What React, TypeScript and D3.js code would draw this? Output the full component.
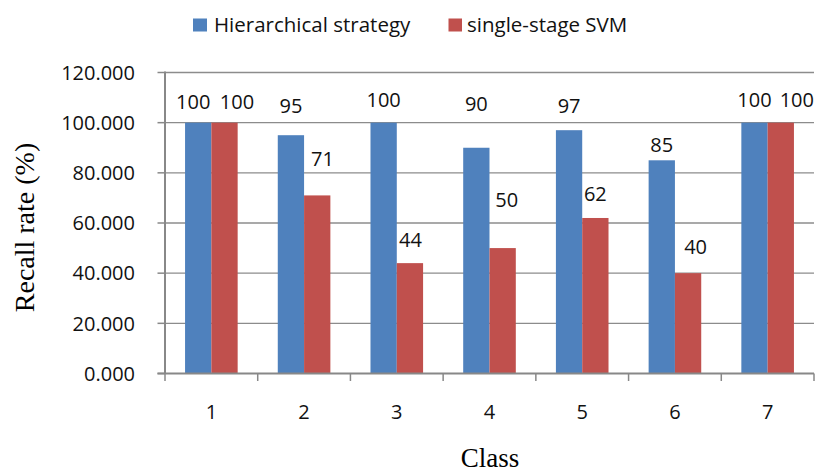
import * as d3 from "d3";

const classes = ["1", "2", "3", "4", "5", "6", "7"];
const seriesNames = ["Hierarchical strategy", "single-stage SVM"];
const hierarchical = [100, 95, 100, 90, 97, 85, 100];
const singleStage = [100, 71, 44, 50, 62, 40, 100];
const yTicks = [0, 20, 40, 60, 80, 100, 120];

// hand nudges for the value labels (px, relative to bar centre / bar top)
const blueNudge = [[-5, -21], [0, -29], [0, -22.5], [0, -43.6], [0, -24], [0, -15], [0, -22.5]];
const redNudge = [[12.5, -21], [5.3, -37], [0.5, -23], [4, -48], [0, -24.6], [7.5, -26.4], [16, -22.5]];

const colors = ["#4F81BD", "#C0504D"];
const sans = "'Open Sans', 'Noto Sans', sans-serif";
const serif = "'Liberation Serif', 'DejaVu Serif', serif";

export default function App() {
  const width = 819;
  const height = 473;
  const margin = { top: 72.5, right: 5, bottom: 99.5, left: 165 };

  const x0 = d3.scaleBand().domain(classes).range([margin.left, width - margin.right]).padding(0);
  const x1 = d3.scaleBand().domain(seriesNames).range([0, x0.bandwidth()]).paddingInner(0).paddingOuter(0.7627);
  const y = d3.scaleLinear().domain([0, 120]).range([height - margin.bottom, margin.top]);

  const series = [hierarchical, singleStage];
  const nudges = [blueNudge, redNudge];
  const x0Start = margin.left;
  const x0End = width - margin.right;
  const boundaries = d3.range(classes.length + 1).map(i => x0Start + i * x0.step());

  return (
    <svg width={width} height={height} style={{ position: "absolute", left: 0, top: 0, background: "#fff" }}>
      {/* gridlines + y ticks */}
      {yTicks.map(t => (
        <g key={t}>
          {t > 0 && <line x1={x0Start} x2={x0End} y1={y(t)} y2={y(t)} stroke="#8c8c8c" strokeWidth={1.3} />}
          <line x1={x0Start - 7.5} x2={x0Start} y1={y(t)} y2={y(t)} stroke="#888" strokeWidth={1.5} />
          <text x={135} y={y(t)} dy="0.36em" textAnchor="end" fontFamily={sans} fontSize={20} fill="#111">
            {d3.format(".3f")(t)}
          </text>
        </g>
      ))}

      {/* bars */}
      {series.map((vals, s) =>
        vals.map((v, i) => (
          <rect
            key={`${s}-${i}`}
            x={(x0(classes[i]) as number) + (x1(seriesNames[s]) as number)}
            y={y(v)}
            width={x1.bandwidth()}
            height={y(0) - y(v)}
            fill={colors[s]}
          />
        ))
      )}

      {/* axes */}
      <line x1={x0Start} x2={x0Start} y1={y(120) - 1} y2={y(0)} stroke="#888" strokeWidth={2} />
      <line x1={x0Start - 7.5} x2={x0End} y1={y(0)} y2={y(0)} stroke="#888" strokeWidth={2} />
      {boundaries.map((bx, i) => (
        <line key={i} x1={bx} x2={bx} y1={y(0)} y2={y(0) + 7.5} stroke="#888" strokeWidth={1.5} />
      ))}
      {classes.map(c => (
        <text key={c} x={(x0(c) as number) + x0.bandwidth() / 2} y={411.7} dy="0.36em" textAnchor="middle"
          fontFamily={sans} fontSize={20} fill="#111">{c}</text>
      ))}

      {/* value labels */}
      {series.map((vals, s) =>
        vals.map((v, i) => (
          <text
            key={`l-${s}-${i}`}
            x={(x0(classes[i]) as number) + (x1(seriesNames[s]) as number) + x1.bandwidth() / 2 + nudges[s][i][0]}
            y={y(v) + nudges[s][i][1]}
            dy="0.36em"
            textAnchor="middle"
            fontFamily={sans}
            fontSize={20}
            fill="#111"
          >
            {v}
          </text>
        ))
      )}

      {/* axis titles */}
      <text x={490} y={466.5} textAnchor="middle" fontFamily={serif} fontSize={27} fill="#000">Class</text>
      <text transform={`translate(34,227.5) rotate(-90)`} textAnchor="middle" fontFamily={serif} fontSize={28} fill="#000">
        Recall rate (%)
      </text>

      {/* legend */}
      <rect x={193} y={18.5} width={14} height={13} fill={colors[0]} />
      <text x={214} y={32} fontFamily={sans} fontSize={20.5} fill="#111">{seriesNames[0]}</text>
      <rect x={448.5} y={18.5} width={13.5} height={13} fill={colors[1]} />
      <text x={467} y={32} fontFamily={sans} fontSize={20.5} fill="#111">{seriesNames[1]}</text>
    </svg>
  );
}
